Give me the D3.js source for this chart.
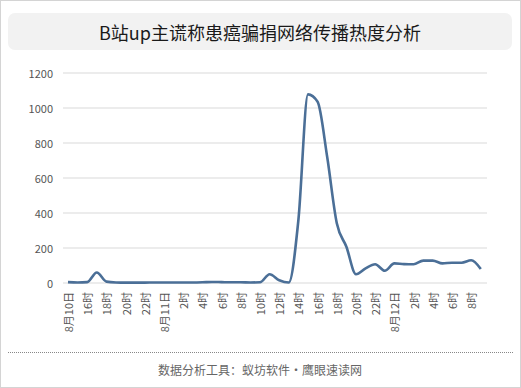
<!DOCTYPE html>
<html>
<head>
<meta charset="utf-8">
<script src="https://cdn.jsdelivr.net/npm/d3@7"></script>
<style>
  body { margin: 0; background: #fff; }
  svg { display: block; font-family: "Noto Sans CJK SC", "Noto Sans", sans-serif; }
</style>
</head>
<body>
<div id="chart"></div>
<script>
// hourly categories, 8月10日 14时 -> 8月12日 9时
var hours = ["8月10日","15时","16时","17时","18时","19时","20时","21时","22时","23时",
  "8月11日","1时","2时","3时","4时","5时","6时","7时","8时","9时","10时","11时","12时","13时",
  "14时","15时","16时","17时","18时","19时","20时","21时","22时","23时",
  "8月12日","1时","2时","3时","4时","5时","6时","7时","8时","9时"]

var heat = [5, 3, 5, 60, 8, 3, 2, 2, 2, 3,
  3, 3, 3, 3, 4, 6, 5, 4, 4, 3, 4, 50, 16, 3,
  360, 1078, 1036, 720, 342, 207, 50, 84, 107, 70,
  112, 108, 107, 128, 128, 112, 116, 116, 130, 80]

var yTicks = [0, 200, 400, 600, 800, 1000, 1200]

var titleText = "B站up主谎称患癌骗捐网络传播热度分析"
var footerText = "数据分析工具：蚁坊软件・鹰眼速读网"

var W = 521, H = 388

var svg = d3.select("#chart").append("svg")
    .attr("width", W)
    .attr("height", H)

// outer frame
svg.append("rect")
    .attr("x", 0.5).attr("y", 0.5)
    .attr("width", W - 1).attr("height", H - 1)
    .attr("fill", "#fff")
    .attr("stroke", "#d4d4d4")

// title box
svg.append("rect")
    .attr("x", 8).attr("y", 13)
    .attr("width", 504).attr("height", 37)
    .attr("rx", 7)
    .attr("fill", "#f2f2f2")

svg.append("text")
    .attr("x", 260).attr("y", 32)
    .attr("text-anchor", "middle")
    .attr("dominant-baseline", "central")
    .attr("font-size", "18px")
    .attr("fill", "#1a1a1a")
    .text(titleText)

//scales
var x = d3.scalePoint().domain(d3.range(hours.length)).range([68, 480.8])
var y = d3.scaleLinear().domain([0, 1200]).range([283, 73])

// grid
svg.append("g")
    .selectAll("line")
    .data(yTicks)
    .enter()
    .append("line")
    .attr("x1", 63).attr("x2", 487)
    .attr("y1", d => y(d)).attr("y2", d => y(d))
    .attr("stroke", "#d9d9d9")
    .attr("stroke-width", 1)

svg.append("g")
    .selectAll("text")
    .data(yTicks)
    .enter()
    .append("text")
    .attr("x", 53)
    .attr("y", d => y(d))
    .attr("text-anchor", "end")
    .attr("dominant-baseline", "central")
    .attr("font-size", "11px")
    .attr("fill", "#555")
    .text(d => d)

// x labels, every 2 hours
svg.append("g")
    .selectAll("text")
    .data(hours.map((h, i) => ({h, i})).filter(d => d.i % 2 == 0))
    .enter()
    .append("text")
    .attr("transform", d => `translate(${x(d.i)},292) rotate(-90)`)
    .attr("text-anchor", "end")
    .attr("dominant-baseline", "central")
    .attr("font-size", "11px")
    .attr("fill", "#555")
    .text(d => d.h)

// line
var line = d3.line()
    .x((d, i) => x(i))
    .y(d => y(d))
    .curve(d3.curveMonotoneX)

svg.append("path")
    .datum(heat)
    .attr("d", line)
    .attr("fill", "none")
    .attr("stroke", "#4b6f97")
    .attr("stroke-width", 2.6)
    .attr("stroke-linejoin", "round")

// footer
svg.append("line")
    .attr("x1", 8).attr("x2", 513)
    .attr("y1", 352.5).attr("y2", 352.5)
    .attr("stroke", "#888")
    .attr("stroke-dasharray", "1,1")

svg.append("text")
    .attr("x", 260).attr("y", 369)
    .attr("text-anchor", "middle")
    .attr("dominant-baseline", "central")
    .attr("font-size", "12px")
    .attr("fill", "#666")
    .text(footerText)
</script>
</body>
</html>
